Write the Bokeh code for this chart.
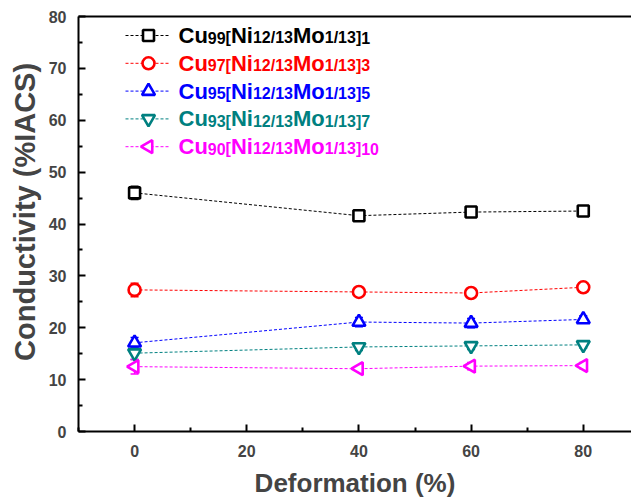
from bokeh.plotting import figure
from bokeh.models import Range1d, LinearAxis, FixedTicker, ColumnDataSource, Whisker, TeeHead
from bokeh.core.properties import value
from bokeh.embed import file_html
from bokeh.resources import INLINE
import math

# ---- data ----
deformation = [0, 40, 60, 80]
cu99 = [46.0, 41.6, 42.3, 42.5]
cu97 = [27.3, 26.9, 26.7, 27.8]
cu95 = [17.1, 21.1, 20.9, 21.6]
cu93 = [15.1, 16.3, 16.5, 16.7]
cu90 = [12.5, 12.1, 12.6, 12.7]
err99 = [1.3, 0.5, 0.5, 0.6]
err97 = [1.3, 0.5, 0.6, 0.5]
err95 = [1.0, 0.9, 0.9, 0.7]
err93 = [1.2, 0.7, 0.7, 0.6]
err90 = [1.4, 0.5, 0.7, 0.6]
cu_subs = ["99", "97", "95", "93", "90"]
k_subs = ["1", "3", "5", "7", "10"]
x_ticks = [0, 20, 40, 60, 80]
y_ticks = [0, 10, 20, 30, 40, 50, 60, 70, 80]

FONT = "Liberation Sans"
colors = ["#000000", "#FF0000", "#0000FF", "#008080", "#FF00FF"]
markers = ["square", "circle", "triangle", "inverted_triangle", "triangle"]
angles = [0, 0, 0, 0, math.pi / 2]
msizes = [11, 12, 13, 13, 13]

X0, X1 = -10, 88.6
Y0, Y1 = 0, 80
FL, FT, FW, FH = 78, 16, 553, 415  # frame geometry in page px

p = figure(width=631, frame_width=FW, frame_height=FH,
           x_range=Range1d(X0, X1), y_range=Range1d(Y0, Y1),
           output_backend="svg", toolbar_location=None,
           min_border_left=FL, min_border_top=FT, min_border_right=0,
           min_border_bottom=60, x_axis_label="Deformation (%)",
           y_axis_label="\u00a0\u00a0\u00a0Conductivity (%IACS)")
p.outline_line_color = None
p.grid.visible = False
p.background_fill_color = "white"

for ax in (p.xaxis[0], p.yaxis[0]):
    ax.axis_line_width = 2
    ax.major_tick_line_width = 2
    ax.minor_tick_line_width = 2
    ax.major_tick_in = 7
    ax.major_tick_out = 0
    ax.minor_tick_in = 4
    ax.minor_tick_out = 0
    ax.major_label_text_font = FONT
    ax.major_label_text_font_style = "bold"
    ax.major_label_text_font_size = "16px"
    ax.axis_label_text_font = FONT
    ax.axis_label_text_font_style = "bold"
p.xaxis[0].axis_label_text_font_size = "26px"
p.yaxis[0].axis_label_text_font_size = "29px"
p.xaxis[0].ticker = FixedTicker(ticks=x_ticks, minor_ticks=[-10, 10, 30, 50, 70])
p.yaxis[0].ticker = FixedTicker(ticks=y_ticks, minor_ticks=[5, 15, 25, 35, 45, 55, 65, 75])
p.xaxis[0].major_label_standoff = 13
p.xaxis[0].axis_label_standoff = 8
p.yaxis[0].major_label_standoff = 12
p.yaxis[0].axis_label_standoff = 5

top = LinearAxis(major_tick_line_color=None, minor_tick_line_color=None,
                 major_label_text_font_size="0px", axis_line_width=2,
                 ticker=FixedTicker(ticks=[]))
p.add_layout(top, "above")

series = [cu99, cu97, cu95, cu93, cu90]
errs = [err99, err97, err95, err93, err90]

for ys, es, c, m, a, s in zip(series, errs, colors, markers, angles, msizes):
    src = ColumnDataSource(dict(x=deformation, y=ys,
                                lo=[y - e for y, e in zip(ys, es)],
                                hi=[y + e for y, e in zip(ys, es)]))
    p.line("x", "y", source=src, line_color=c, line_width=1, line_dash="3 2")
    p.scatter("x", "y", source=src, marker=m, angle=a, size=s, line_color=c,
              line_width=2.6, fill_color="white")
    w = Whisker(base="x", lower="lo", upper="hi", source=src, line_color=c, line_width=1.5,
                upper_head=TeeHead(size=8, line_color=c, line_width=1.5),
                lower_head=TeeHead(size=8, line_color=c, line_width=1.5))
    p.add_layout(w)

# ---- legend drawn by hand ----
def xd(px):
    return X0 + (px - FL) / FW * (X1 - X0)

def yd(py):
    return Y1 - (py - FT) / FH * (Y1 - Y0)

W = {'C': 722, 'u': 611, 'N': 722, 'i': 278, 'M': 833, 'o': 611, '[': 333, ']': 333, '/': 278}
for d in "0123456789":
    W[d] = 556

def tw(s, size):
    return sum(W[ch] for ch in s) / 1000 * size

BIG, SMALL = 22, 16
row0, dy = 35, 27.8
for i, (c, m, a, s) in enumerate(zip(colors, markers, angles, msizes)):
    cy = row0 + i * dy
    p.line([xd(125), xd(169)], [yd(cy), yd(cy)], line_color=c, line_width=1, line_dash="3 2")
    p.scatter([xd(148)], [yd(cy)], marker=m, angle=a, size=s, line_color=c,
              line_width=2.6, fill_color="white")
    segs = [("Cu", BIG), (cu_subs[i], SMALL), ("[", SMALL), ("Ni", BIG), ("12/13", SMALL),
            ("Mo", BIG), ("1/13", SMALL), ("]", SMALL), (k_subs[i], SMALL)]
    x = 178
    for t, sz in segs:
        ty = cy + 0.35 * (BIG - sz)
        p.text([xd(x)], [yd(ty)], text=[t], text_color=c,
               text_font=value(FONT), text_font_style="bold",
               text_font_size=f"{sz}px", text_baseline="middle", text_align="left")
        x += tw(t, sz)

open("out.html", "w").write(file_html(p, INLINE))
